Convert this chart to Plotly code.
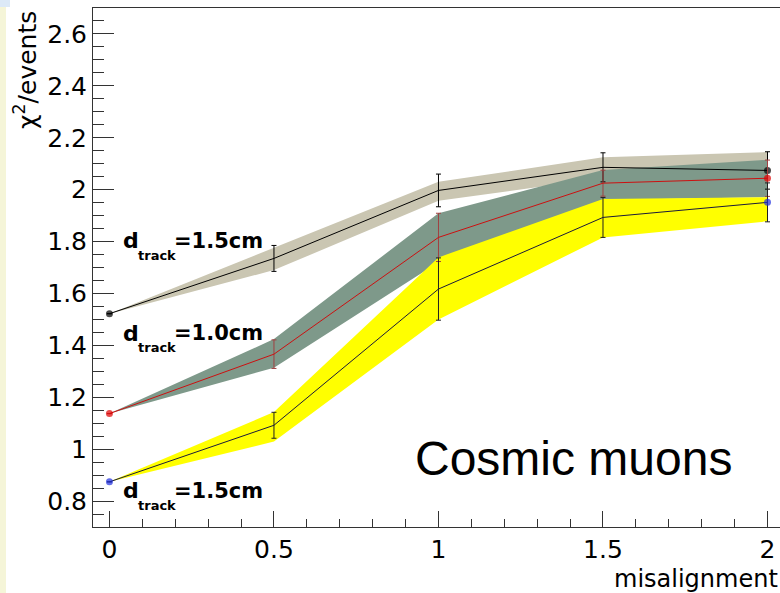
import plotly.graph_objects as go

# ---------------- data ----------------
misalignment = [0, 0.5, 1, 1.5, 2]

# series A (top, black) d_track = 1.5cm
a_val = [1.522, 1.735, 1.997, 2.086, 2.074]
a_hi = [1.522, 1.775, 2.030, 2.125, 2.145]
a_lo = [1.522, 1.690, 1.957, 2.045, 2.030]
a_err = [0.0, 0.050, 0.063, 0.056, 0.072]

# series B (middle, red) d_track = 1.0cm
b_val = [1.137, 1.366, 1.816, 2.025, 2.044]
b_hi = [1.137, 1.424, 1.909, 2.076, 2.115]
b_lo = [1.137, 1.314, 1.720, 1.960, 1.971]
b_err = [0.0, 0.055, 0.093, 0.050, 0.070]

# series C (bottom, blue) d_track = 1.5cm
c_val = [0.874, 1.092, 1.617, 1.893, 1.951]
c_hi = [0.874, 1.143, 1.739, 1.964, 1.971]
c_lo = [0.874, 1.029, 1.500, 1.816, 1.878]
c_err = [0.0, 0.050, 0.120, 0.077, 0.075]

end_marker_size = [7, 0, 0, 0, 7]

labels = ["=1.5cm", "=1.0cm", "=1.5cm"]

# ---------------- layout geometry ----------------
W, H = 780, 593
ML, MR, MT, MB = 93, 0, 8, 66
PW, PH = W - ML - MR, H - MT - MB


def px_x(px):
    return (px - ML) / PW


def px_y(py):
    return (H - MB - py) / PH


fig = go.Figure()


def band(x, lo, hi, color):
    fig.add_trace(go.Scatter(
        x=list(x) + list(x)[::-1], y=list(hi) + list(lo)[::-1],
        fill="toself", fillcolor=color, line=dict(width=0),
        mode="lines", hoverinfo="skip", showlegend=False))


band(misalignment, a_lo, a_hi, "#cac6b2")
band(misalignment, b_lo, b_hi, "#7e998a")
band(misalignment, c_lo, c_hi, "#ffff00")


def series(y, err, lcolor, ecolor, mcolor):
    fig.add_trace(go.Scatter(
        x=misalignment, y=y, mode="lines+markers",
        line=dict(color=lcolor, width=1),
        marker=dict(color=mcolor, size=end_marker_size, line=dict(width=0)),
        error_y=dict(type="data", array=err, visible=True,
                     color=ecolor, thickness=1, width=2.5),
        showlegend=False))


series(a_val, a_err, "#000000", "#000000", "#000000")
series(b_val, b_err, "#cc1010", "#a04040", "#e00000")
series(c_val, c_err, "#1a1a3a", "#202020", "#1f2fe0")

tickfont = dict(family="DejaVu Sans", size=25, color="#000000")

fig.update_xaxes(
    range=[-0.05, 2.038], tickmode="array", tickvals=misalignment,
    ticktext=["0", "0.5", "1", "1.5", "2"],
    ticks="inside", ticklen=16, tickcolor="#333333", tickwidth=1,
    minor=dict(dtick=0.1, ticks="inside", ticklen=8, tickcolor="#333333", tickwidth=1),
    showline=True, linecolor="#333333", linewidth=1, mirror=True,
    showgrid=False, zeroline=False, tickfont=tickfont)

fig.update_yaxes(
    range=[0.7, 2.7], tickmode="array",
    tickvals=[0.8, 1.0, 1.2, 1.4, 1.6, 1.8, 2.0, 2.2, 2.4, 2.6],
    ticktext=["0.8", "1", "1.2", "1.4", "1.6", "1.8", "2", "2.2", "2.4", "2.6"],
    ticks="inside", ticklen=21, tickcolor="#333333", tickwidth=1,
    minor=dict(dtick=0.05, ticks="inside", ticklen=11, tickcolor="#333333", tickwidth=1),
    showline=True, linecolor="#333333", linewidth=1,
    showgrid=False, zeroline=False, tickfont=tickfont)

annotations = []
# d_track labels
d_baselines = [248.3, 340.7, 498.3]
for lab, base in zip(labels, d_baselines):
    annotations.append(dict(text="<b>d</b>", x=px_x(121), y=px_y(base - 0.345 * 22),
                            xref="paper", yref="paper", xanchor="left", yanchor="middle",
                            showarrow=False,
                            font=dict(family="DejaVu Sans", size=22, color="#000000")))
    annotations.append(dict(text="<b>track</b>", x=px_x(136), y=px_y(base + 11.7 - 0.345 * 13),
                            xref="paper", yref="paper", xanchor="left", yanchor="middle",
                            showarrow=False,
                            font=dict(family="DejaVu Sans", size=13, color="#000000")))
    annotations.append(dict(text="<b>" + lab + "</b>", x=px_x(172), y=px_y(base - 0.345 * 21),
                            xref="paper", yref="paper", xanchor="left", yanchor="middle",
                            showarrow=False,
                            font=dict(family="DejaVu Sans", size=21, color="#000000")))

annotations.append(dict(text="Cosmic muons", x=px_x(413), y=px_y(475 - 0.347 * 48),
                        xref="paper", yref="paper", xanchor="left", yanchor="middle",
                        showarrow=False,
                        font=dict(family="Liberation Sans", size=48, color="#000000")))
annotations.append(dict(text="misalignment", x=1.0, y=px_y(579),
                        xref="paper", yref="paper", xanchor="right", yanchor="middle",
                        showarrow=False,
                        font=dict(family="DejaVu Sans", size=24, color="#000000")))
annotations.append(dict(text="χ<sup>2</sup>/events", x=px_x(25), y=px_y(9),
                        xref="paper", yref="paper", xanchor="center", yanchor="top",
                        textangle=-90, showarrow=False,
                        font=dict(family="DejaVu Sans", size=25, color="#000000")))

shapes = [
    dict(type="rect", xref="paper", yref="paper", x0=px_x(0), x1=px_x(6),
         y0=px_y(H), y1=px_y(0), fillcolor="#f5f5d8", line=dict(width=0), layer="below"),
    dict(type="rect", xref="paper", yref="paper", x0=px_x(0), x1=px_x(10),
         y0=px_y(7), y1=px_y(0), fillcolor="#dce9f7", line=dict(width=0), layer="below"),
]

fig.update_layout(
    width=W, height=H, margin=dict(l=ML, r=MR, t=MT, b=MB),
    paper_bgcolor="#ffffff", plot_bgcolor="#ffffff",
    annotations=annotations, shapes=shapes, showlegend=False)

fig.write_html("out.html")
